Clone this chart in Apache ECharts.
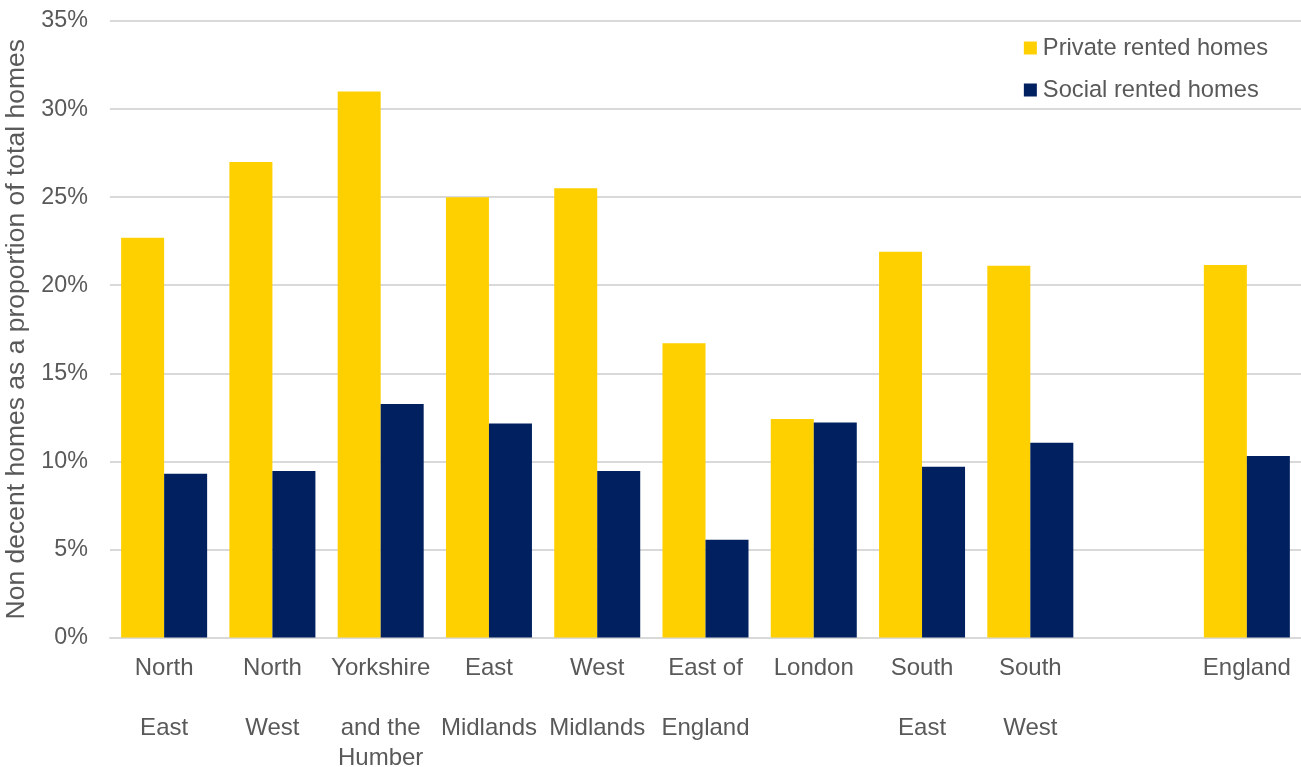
<!DOCTYPE html>
<html>
<head>
<meta charset="utf-8">
<script src="https://cdn.jsdelivr.net/npm/echarts@6/dist/echarts.min.js"></script>
<style>
  html, body { margin: 0; padding: 0; background: #ffffff; }
  #chart { width: 1301px; height: 767px; }
</style>
</head>
<body>
<div id="chart"></div>
<script>
// Regions (blank entry keeps the gap before the national total)
const categories = [
  'North\n\nEast', 'North\n\nWest', 'Yorkshire\n\nand the\nHumber', 'East\n\nMidlands',
  'West\n\nMidlands', 'East of\n\nEngland', 'London', 'South\n\nEast', 'South\n\nWest',
  '', 'England'
];

// Non decent homes as % of total homes
const privateRented = [22.7, 27.0, 31.0, 25.0, 25.5, 16.7, 12.4, 21.9, 21.1, null, 21.15];
const socialRented  = [9.3, 9.45, 13.25, 12.15, 9.45, 5.55, 12.2, 9.7, 11.05, null, 10.3];

const seriesNames = ['Private rented homes', 'Social rented homes'];
const yTicks = { min: 0, max: 35, interval: 5 };
const yTitle = 'Non decent homes as a proportion of total homes';

const textColor = '#595959';
const fontFamily = '"Liberation Sans", Arial, sans-serif';

const chart = echarts.init(document.getElementById('chart'), null, { renderer: 'canvas' });

chart.setOption({
  animation: false,
  backgroundColor: '#ffffff',
  textStyle: { fontFamily: fontFamily, color: textColor },
  grid: {
    left: 110, right: 0, top: 21, bottom: 129.5,
    containLabel: false,
    outerBoundsMode: 'none'
  },
  legend: {
    data: seriesNames,
    orient: 'vertical',
    right: 28,
    top: 31,
    itemWidth: 13,
    itemHeight: 13,
    itemGap: 18,
    icon: 'rect',
    textStyle: { fontSize: 23.7, color: textColor, fontFamily: fontFamily, padding: [0, 0, 0, 1] }
  },
  xAxis: {
    type: 'category',
    data: categories,
    axisLine: { show: true, lineStyle: { color: '#d9d9d9', width: 2 } },
    axisTick: { show: false },
    axisLabel: {
      interval: 0,
      fontSize: 24,
      color: textColor,
      fontFamily: fontFamily,
      lineHeight: 30,
      margin: 16
    }
  },
  yAxis: {
    type: 'value',
    min: yTicks.min,
    max: yTicks.max,
    interval: yTicks.interval,
    name: yTitle,
    nameLocation: 'middle',
    nameRotate: 90,
    nameGap: 76,
    nameTextStyle: { fontSize: 26.5, color: textColor, fontFamily: fontFamily },
    axisLine: { show: false },
    axisTick: { show: false },
    axisLabel: {
      formatter: v => v + '%',
      fontSize: 23.3,
      color: textColor,
      fontFamily: fontFamily,
      margin: 22
    },
    splitLine: { show: true, lineStyle: { color: '#d9d9d9', width: 2 } }
  },
  series: [
    {
      name: seriesNames[0],
      type: 'bar',
      data: privateRented,
      barWidth: 43,
      barGap: '0%',
      itemStyle: { color: '#FED000' }
    },
    {
      name: seriesNames[1],
      type: 'bar',
      data: socialRented,
      barWidth: 43,
      barGap: '0%',
      itemStyle: { color: '#00205F' }
    }
  ]
});
</script>
</body>
</html>
